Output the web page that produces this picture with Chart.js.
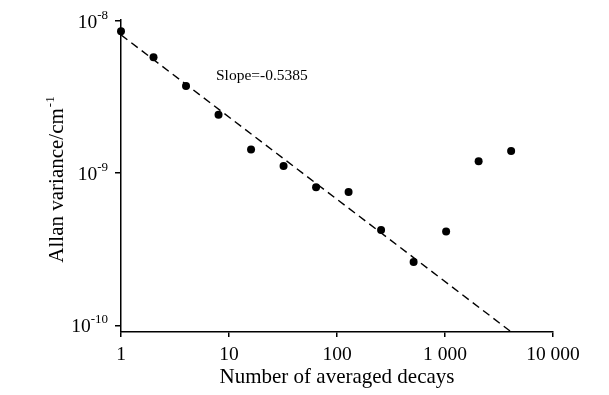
<!DOCTYPE html>
<html lang="en">
<head>
    <meta charset="UTF-8">
    <title>Allan variance</title>
    <script src="https://cdn.jsdelivr.net/npm/chart.js"></script>
    <style>
        body { margin: 0; background: #fff; }
    </style>
</head>
<body>
    <canvas id="allanChart" width="609" height="395"></canvas>

    <script>
        // data
        const decays = [1, 2, 4, 8, 16, 32, 64, 128, 256, 512, 1024, 2048, 4096];
        const allanVar = [8.56e-9, 5.77e-9, 3.74e-9, 2.42e-9, 1.43e-9, 1.115e-9, 8.08e-10,
                          7.52e-10, 4.23e-10, 2.61e-10, 4.15e-10, 1.2e-9, 1.4e-9];
        const fitX = [1, 4000];
        const fitY = [8.1e-9, 9.2e-11];
        const xTicks = [1, 10, 100, 1000, 10000];
        const yTicks = [1e-10, 1e-9, 1e-8];
        const slopeLabel = 'Slope=-0.5385';

        const serif = '"Liberation Serif", "Times New Roman", serif';

        const textPlugin = {
            id: 'texts',
            afterDraw(chart) {
                const c = chart.ctx;
                const area = chart.chartArea;
                const ys = chart.scales.y;
                c.save();
                c.fillStyle = '#000';

                // y tick labels: 10 with superscript exponent
                yTicks.forEach(v => {
                    const py = ys.getPixelForValue(v);
                    const exp = String(Math.round(Math.log10(v)));
                    c.font = '13px ' + serif;
                    const ew = c.measureText(exp).width;
                    c.textAlign = 'left';
                    c.textBaseline = 'alphabetic';
                    c.fillText(exp, 108 - ew, py - 2);
                    c.font = '19.5px ' + serif;
                    c.textAlign = 'right';
                    c.fillText('10', 108 - ew, py + 7);
                });

                // y axis title, rotated
                c.save();
                c.translate(63, (area.top + area.bottom) / 2 + 4);
                c.rotate(-Math.PI / 2);
                c.font = '21px ' + serif;
                const body = 'Allan variance/cm';
                const bw = c.measureText(body).width;
                c.font = '13px ' + serif;
                const sw = c.measureText('-1').width;
                const start = -(bw + sw) / 2;
                c.textAlign = 'left';
                c.textBaseline = 'alphabetic';
                c.font = '21px ' + serif;
                c.fillText(body, start, 0);
                c.font = '13px ' + serif;
                c.fillText('-1', start + bw + 1, -9);
                c.restore();

                // x axis title
                c.font = '21px ' + serif;
                c.textAlign = 'center';
                c.fillText('Number of averaged decays', (area.left + area.right) / 2, 383);

                // slope annotation
                c.font = '15.5px ' + serif;
                c.textAlign = 'left';
                c.fillText(slopeLabel, 216, 80);
                c.restore();
            }
        };

        const ctx = document.getElementById('allanChart').getContext('2d');
        const chart = new Chart(ctx, {
            type: 'scatter',
            data: {
                datasets: [{
                    label: 'Allan variance',
                    data: decays.map((d, i) => ({ x: d, y: allanVar[i] })),
                    backgroundColor: '#000',
                    borderColor: '#000',
                    borderWidth: 0,
                    pointRadius: 4,
                    pointHoverRadius: 4,
                    clip: false
                }, {
                    label: 'Fit',
                    type: 'line',
                    data: fitX.map((d, i) => ({ x: d, y: fitY[i] })),
                    borderColor: '#000',
                    borderWidth: 1.4,
                    borderDash: [8, 5],
                    pointRadius: 0,
                    fill: false
                }]
            },
            options: {
                responsive: false,
                animation: false,
                layout: { padding: { top: 20, right: 56, left: 0, bottom: 0 } },
                plugins: {
                    legend: { display: false },
                    tooltip: { enabled: false }
                },
                scales: {
                    x: {
                        type: 'logarithmic',
                        min: 1,
                        max: 10000,
                        afterBuildTicks: s => { s.ticks = xTicks.map(v => ({ value: v })); },
                        afterFit: s => { s.height = 63; },
                        border: { display: true, color: '#000', width: 1.5 },
                        grid: { display: true, drawOnChartArea: false, drawTicks: true, tickLength: 5, color: '#000', lineWidth: 1.5 },
                        ticks: {
                            color: '#000',
                            font: { family: serif, size: 19.5 },
                            padding: 6,
                            maxRotation: 0,
                            autoSkip: false,
                            callback: v => String(v).replace(/\B(?=(\d{3})+(?!\d))/g, ' ')
                        }
                    },
                    y: {
                        type: 'logarithmic',
                        min: 9.06e-11,
                        max: 1.015e-8,
                        afterBuildTicks: s => { s.ticks = yTicks.map(v => ({ value: v })); },
                        afterFit: s => { s.width = 121; },
                        border: { display: true, color: '#000', width: 1.5 },
                        grid: { display: true, drawOnChartArea: false, drawTicks: true, tickLength: 6, color: '#000', lineWidth: 1.5 },
                        ticks: { display: false }
                    }
                }
            },
            plugins: [textPlugin]
        });
    </script>
</body>
</html>
